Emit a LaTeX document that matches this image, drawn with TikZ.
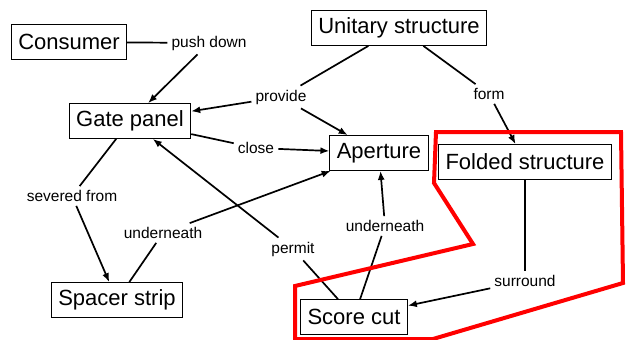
\documentclass[tikz,border=0pt]{standalone}
\usepackage{fontspec}
\setmainfont{Liberation Sans}
\usepackage{tikz}
\usetikzlibrary{arrows.meta}
\tikzset{>={Latex[length=9pt,width=7pt]},
  concept/.style={draw,line width=0.8pt,font=\fontsize{22}{24}\selectfont,
    minimum height=35pt,inner xsep=7pt,inner ysep=3pt},
  link/.style={font=\fontsize{15.5}{18}\selectfont,inner sep=4pt},
  every edge/.append style={line width=1.7pt}}

\begin{document}
\begin{tikzpicture}[x=1pt,y=-1pt]
           \useasboundingbox (0,0) rectangle (627,340);
           \node[concept] (consumer)   at (69,42)  {Consumer};
           \node[concept] (gate_panel) at (130,121) {Gate panel};
           \node[concept] (unitary)    at (399,28) {Unitary structure};
           \node[concept] (aperture)   at (379,153) {Aperture};
           \node[concept] (folded)     at (525,162) {Folded structure};
           \node[concept] (spacer)     at (117,300) {Spacer strip};
           \node[concept] (score_cut)  at (354,317) {Score cut};
           \node[link] (push_down) at (209,43)  {push down};
           \node[link] (provide)   at (281,97)  {provide};
           \node[link] (close)     at (256,148) {close};
           \node[link] (form)      at (489,94)  {form};
           \node[link] (severed)   at (72,196)  {severed from};
           \node[link] (under_l)   at (163,233) {underneath};
           \node[link] (permit)    at (293,249) {permit};
           \node[link] (under_r)   at (385,226) {underneath};
           \node[link] (surround)  at (525,281) {surround};
            \path[-]
            (consumer) edge (push_down)
            (unitary) edge (provide)
                      edge (form)
            (gate_panel) edge (close)
                         edge (severed)
            (spacer) edge (under_l)
            (score_cut) edge (permit)
                        edge (under_r)
            (folded) edge (surround);
            \path[->]
            (push_down) edge (gate_panel)
            (provide) edge (gate_panel)
                      edge (aperture)
            (form) edge (folded)
            (close) edge (aperture)
            (severed) edge (spacer)
            (under_l) edge (aperture)
            (permit) edge (gate_panel)
            (under_r) edge (aperture)
            (surround) edge (score_cut);
           % red outline
           \draw[red,line width=4pt] (436,132) -- (621,132) -- (623,283)
             -- (433,339) -- (295,339) -- (295,286) -- (473,244)
             -- (434,183) -- cycle;
        \end{tikzpicture}
\end{document}
